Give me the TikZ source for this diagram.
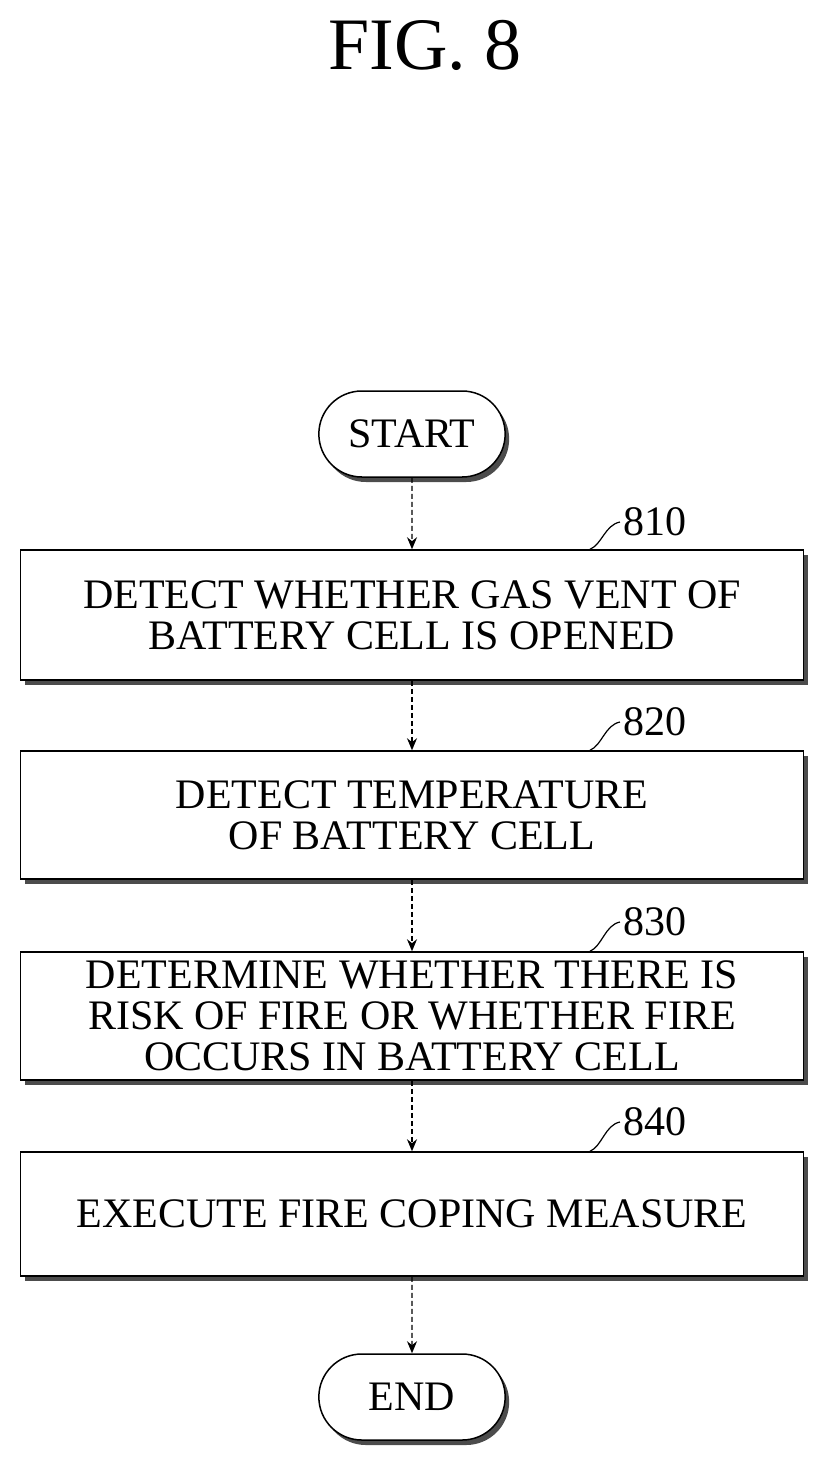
\documentclass[tikz,border=0pt]{standalone}
\usepackage{fontspec}
\setmainfont{Liberation Serif}
\usetikzlibrary{arrows.meta,shapes.misc}
\begin{document}
\begin{tikzpicture}[x=1pt,y=-1pt,
  box/.style={draw,line width=1.5pt,minimum width=783pt,minimum height=#1,align=center,font=\fontsize{42}{41}\selectfont,
    preaction={fill=black!70,transform canvas={shift={(4pt,-5pt)}}},fill=white},
  term/.style={draw,line width=1.5pt,rounded rectangle,minimum width=193pt,minimum height=86pt,font=\fontsize{42}{44}\selectfont,
    preaction={fill=black!70,transform canvas={shift={(4pt,-5pt)}}},fill=white},
  arr/.style={draw,line width=1.3pt,dashed,dash pattern=on 5pt off 3pt,-{Stealth[length=12pt,width=10pt]}},
  lab/.style={font=\fontsize{42}{44}\selectfont},
  lead/.style={draw,line width=1.2pt}]
\useasboundingbox (0,0) rectangle (829,1466);
\node[font=\fontsize{74}{76}\selectfont] (title) at (425,45) {FIG. 8};
\node[term] (start) at (412,434) {START};
\node[box=130pt] (b1) at (412,615) {DETECT WHETHER GAS VENT OF\\BATTERY CELL IS OPENED};
\node[box=128pt] (b2) at (412,815) {DETECT TEMPERATURE\\OF BATTERY CELL};
\node[box=128pt] (b3) at (412,1016) {DETERMINE WHETHER THERE IS\\RISK OF FIRE OR WHETHER FIRE\\OCCURS IN BATTERY CELL};
\node[box=124pt] (b4) at (412,1214) {EXECUTE FIRE COPING MEASURE};
\node[term] (end) at (412,1397) {END};
\draw[arr] (start) -- (b1);
\draw[arr] (b1) -- (b2);
\draw[arr] (b2) -- (b3);
\draw[arr] (b3) -- (b4);
\draw[arr] (b4) -- (end);
\node[lab] (l1) at (655,522) {810};
\node[lab] (l2) at (655,722) {820};
\node[lab] (l3) at (655,922) {830};
\node[lab] (l4) at (655,1122) {840};
\foreach \i in {1,2,3,4}{
  \draw[lead] ([xshift=178pt]b\i.north) .. controls +(12,-5) and +(-15,3) .. (l\i.west);
}
\end{tikzpicture}
\end{document}
